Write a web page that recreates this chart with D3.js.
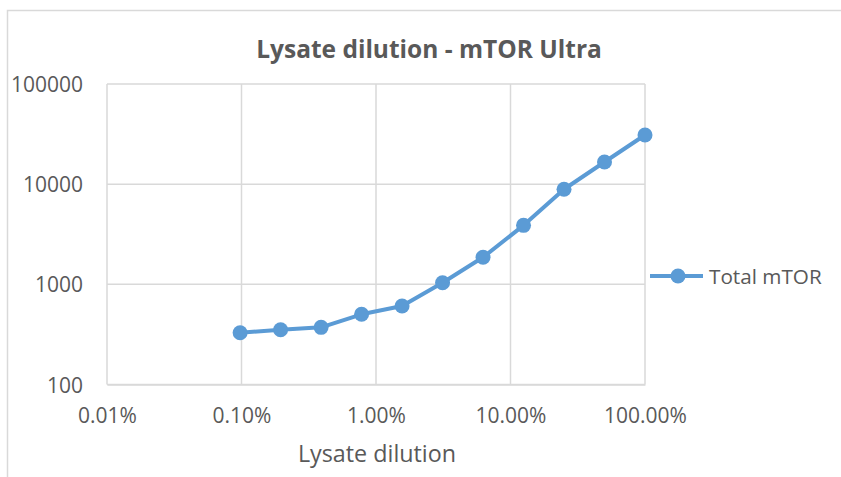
<!DOCTYPE html>
<html>
<head>
<meta charset="utf-8">
<script src="https://cdn.jsdelivr.net/npm/d3@7"></script>
<style>
  html, body { margin: 0; padding: 0; background: #fff; }
  svg { display: block; }
  text { font-family: "Open Sans", Lato, sans-serif; }
</style>
</head>
<body>
<svg id="chart" width="841" height="477"></svg>
<script>
// Data
const dilutions = [1/1024, 1/512, 1/256, 1/128, 1/64, 1/32, 1/16, 1/8, 1/4, 1/2, 1];
const totalMTOR = [329, 352, 372, 502, 608, 1038, 1862, 3882, 8892, 16640, 30970];
const xTicks = [0.0001, 0.001, 0.01, 0.1, 1];
const xTickLabels = ["0.01%", "0.10%", "1.00%", "10.00%", "100.00%"];
const yTicks = [100, 1000, 10000, 100000];
const yTickLabels = ["100", "1000", "10000", "100000"];
const seriesName = "Total mTOR";
const chartTitle = "Lysate dilution - mTOR Ultra";
const xAxisTitle = "Lysate dilution";

const svg = d3.select("#chart");
const W = 841, H = 477;
const plot = { left: 107, right: 645, top: 84, bottom: 384.5 };
const lineColor = "#5B9BD5";
const gridColor = "#d9d9d9";
const textColor = "#595959";
const fontFam = "'Open Sans', Lato, sans-serif";

// Outer chart border (only left & top visible in the crop)
svg.append("path")
  .attr("d", `M7.5,${H} L7.5,10.5 L${W},10.5`)
  .attr("fill", "none").attr("stroke", "#d9d9d9").attr("stroke-width", 1.5);

const x = d3.scaleLog().domain([0.0001, 1]).range([plot.left, plot.right]);
const y = d3.scaleLog().domain([100, 100000]).range([plot.bottom, plot.top]);

// Gridlines
const gridG = svg.append("g");
gridG.selectAll("line.v").data(xTicks).join("line")
  .attr("x1", d => x(d)).attr("x2", d => x(d))
  .attr("y1", plot.top).attr("y2", plot.bottom)
  .attr("stroke", gridColor).attr("stroke-width", 1.5);
gridG.selectAll("line.h").data(yTicks).join("line")
  .attr("x1", plot.left).attr("x2", plot.right)
  .attr("y1", d => y(d)).attr("y2", d => y(d))
  .attr("stroke", gridColor).attr("stroke-width", 1.5);

// X axis
const xAxis = d3.axisBottom(x).tickValues(xTicks)
  .tickFormat((d, i) => xTickLabels[i]).tickSize(0).tickPadding(24);
const gx = svg.append("g").attr("transform", `translate(0,${plot.bottom})`).call(xAxis);
gx.select(".domain").attr("stroke", gridColor).attr("stroke-width", 1.5);
gx.selectAll("text").attr("fill", textColor).style("font-size", "21px")
  .style("font-family", fontFam);

// Y axis
const yAxis = d3.axisLeft(y).tickValues(yTicks)
  .tickFormat((d, i) => yTickLabels[i]).tickSize(0).tickPadding(24);
const gy = svg.append("g").attr("transform", `translate(${plot.left},0)`).call(yAxis);
gy.select(".domain").remove();
gy.selectAll("text").attr("fill", textColor).style("font-size", "21px")
  .style("font-family", fontFam).attr("dy", "0.36em");

// Line
const line = d3.line().x((d, i) => x(dilutions[i])).y(d => y(d));
svg.append("path").datum(totalMTOR)
  .attr("d", line).attr("fill", "none")
  .attr("stroke", lineColor).attr("stroke-width", 4)
  .attr("stroke-linejoin", "round");
svg.selectAll("circle.pt").data(totalMTOR).join("circle")
  .attr("class", "pt")
  .attr("cx", (d, i) => x(dilutions[i])).attr("cy", d => y(d))
  .attr("r", 7.5).attr("fill", lineColor);

// Title
svg.append("text").attr("x", 429).attr("y", 58).attr("text-anchor", "middle")
  .attr("fill", textColor).style("font-size", "24.5px").style("font-weight", "bold")
  .text(chartTitle);

// X axis title
svg.append("text").attr("x", 377).attr("y", 462).attr("text-anchor", "middle")
  .attr("fill", textColor).style("font-size", "23.3px")
  .text(xAxisTitle);

// Legend
const lg = svg.append("g");
lg.append("line").attr("x1", 650).attr("x2", 703).attr("y1", 276).attr("y2", 276)
  .attr("stroke", lineColor).attr("stroke-width", 4);
lg.append("circle").attr("cx", 678).attr("cy", 276).attr("r", 7.5).attr("fill", lineColor);
lg.append("text").attr("x", 709).attr("y", 284).attr("fill", textColor)
  .style("font-size", "20.7px").text(seriesName);
</script>
</body>
</html>
